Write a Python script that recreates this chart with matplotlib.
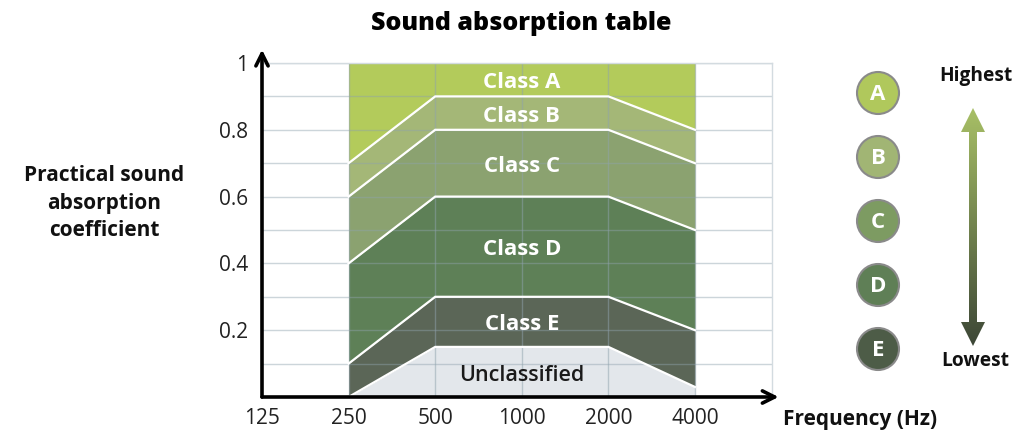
import numpy as np
import matplotlib
matplotlib.use("Agg")
import matplotlib.pyplot as plt
from matplotlib.patches import Circle, Polygon

plt.rcParams['font.family'] = ['Open Sans', 'DejaVu Sans']

# data ----------------------------------------------------------------------
freqs = [250, 500, 1000, 2000, 4000]
tick_freqs = [125, 250, 500, 1000, 2000, 4000]
y_ticks = [0.2, 0.4, 0.6, 0.8, 1.0]
y_tick_labels = ['0.2', '0.4', '0.6', '0.8', '1']

# upper boundary of each band, bottom to top
unclassified_top = [0.0, 0.15, 0.15, 0.15, 0.03]
class_e_top = [0.1, 0.3, 0.3, 0.3, 0.2]
class_d_top = [0.4, 0.6, 0.6, 0.6, 0.5]
class_c_top = [0.6, 0.8, 0.8, 0.8, 0.7]
class_b_top = [0.7, 0.9, 0.9, 0.9, 0.8]
class_a_top = [1.0, 1.0, 1.0, 1.0, 1.0]

band_names = ['Unclassified', 'Class E', 'Class D', 'Class C', 'Class B', 'Class A']
band_colors = ['#e3e7eb', '#5b6657', '#5e8057', '#8ba270', '#a4b777', '#b3cb5b']
legend_letters = ['A', 'B', 'C', 'D', 'E']
legend_colors = ['#b0c85c', '#a1b574', '#7d9b62', '#5f7f56', '#4d5c47']

tops = [unclassified_top, class_e_top, class_d_top, class_c_top, class_b_top, class_a_top]

# figure ----------------------------------------------------------------------
W, H = 1015, 432
fig = plt.figure(figsize=(W / 100, H / 100), dpi=100)

x0, x1, y0, y1 = 262, 772, 397, 63
ax = fig.add_axes([x0 / W, 1 - y0 / H, (x1 - x0) / W, (y0 - y1) / H])
ax.set_xscale('log', base=2)
ax.set_xlim(125, 4000 * 2 ** ((x1 - 695) / 86.6))
ax.set_ylim(0, 1)

lower = [0.0] * len(freqs)
for top, col, name in zip(tops, band_colors, band_names):
    ax.fill_between(freqs, lower, top, color=col, lw=0, zorder=1)
    mid = (lower[2] + top[2]) / 2
    if name == 'Unclassified':
        ax.text(1000, mid - 0.011, name, ha='center', va='center', color='#1a1a1a',
                fontsize=15.5, fontweight='semibold', zorder=4)
    else:
        ax.text(1000, mid - 0.009, name, ha='center', va='center', color='white',
                fontsize=16, fontweight='bold', zorder=4)
    lower = top

for top in tops[:-1]:
    ax.plot(freqs, top, color='white', lw=1.6, zorder=3,
            solid_joinstyle='miter')

# grid over the fills, faint
for f in freqs:
    ax.axvline(f, color='#8fa2ad', alpha=0.5, lw=1, zorder=2)
for yv in np.arange(0.1, 1.01, 0.1):
    ax.axhline(yv, color='#8fa2ad', alpha=0.45, lw=1, zorder=2)

for s in ['left', 'bottom']:
    ax.spines[s].set_visible(False)
for s in ['top', 'right']:
    ax.spines[s].set_color('#d3dbe0')
    ax.spines[s].set_linewidth(1)

ax.set_xticks(tick_freqs)
ax.set_xticklabels([str(f) for f in tick_freqs])
ax.xaxis.set_minor_locator(matplotlib.ticker.NullLocator())
ax.set_yticks(y_ticks)
ax.set_yticklabels(y_tick_labels)
ax.tick_params(length=0, labelsize=15, colors='#222222')
ax.tick_params(axis='x', pad=8)
ax.tick_params(axis='y', pad=10)

# axis arrows
ax.annotate('', xy=(1.013, 0), xytext=(0, 0), xycoords='axes fraction',
            arrowprops=dict(arrowstyle='->', lw=2.6, color='black',
                            mutation_scale=22, shrinkA=0, shrinkB=0),
            annotation_clip=False, zorder=5)
ax.annotate('', xy=(0, 1.04), xytext=(0, 0), xycoords='axes fraction',
            arrowprops=dict(arrowstyle='->', lw=2.6, color='black',
                            mutation_scale=22, shrinkA=0, shrinkB=0),
            annotation_clip=False, zorder=5)

# overlay for titles and the class legend (pixel coordinates)
ov = fig.add_axes([0, 0, 1, 1], zorder=-1)
ov.set_xlim(0, W)
ov.set_ylim(H, 0)
ov.axis('off')

ov.text(521, 23, 'Sound absorption table', ha='center', va='center',
        fontsize=18, fontweight='heavy', color='black')
ov.text(104, 203, 'Practical sound\nabsorption\ncoefficient', ha='center',
        va='center', fontsize=15, fontweight='bold', color='#111111',
        linespacing=1.38)
ov.text(783, 419, 'Frequency (Hz)', ha='left', va='center', fontsize=15,
        fontweight='bold', color='#111111')

for i, (letter, col) in enumerate(zip(legend_letters, legend_colors)):
    cy = 93 + i * 64
    ov.add_patch(Circle((878, cy), 21, facecolor=col, edgecolor='#8a8a8a', lw=1.5))
    ov.text(878, cy + 1, letter, ha='center', va='center', color='white',
            fontsize=16, fontweight='bold')

ov.text(976, 76, 'Highest', ha='center', va='center', fontsize=13.8,
        fontweight='bold', color='#111111')
ov.text(975, 361, 'Lowest', ha='center', va='center', fontsize=13.8,
        fontweight='bold', color='#111111')

# gradient double arrow
ax_x = 973
pts = [(ax_x, 108), (ax_x + 12, 132), (ax_x + 4, 132), (ax_x + 4, 322),
       (ax_x + 12, 322), (ax_x, 346), (ax_x - 12, 322), (ax_x - 4, 322),
       (ax_x - 4, 132), (ax_x - 12, 132)]
arrow = Polygon(pts, closed=True, facecolor='none', edgecolor='none')
ov.add_patch(arrow)
c_top = np.array([168, 192, 102]) / 255
c_bot = np.array([60, 70, 54]) / 255
t = np.linspace(0, 1, 256)[:, None]
grad = (c_top[None, :] * (1 - t) + c_bot[None, :] * t)[:, None, :]
im = ov.imshow(grad, extent=[ax_x - 13, ax_x + 13, 347, 107], aspect='auto',
               interpolation='bilinear')
im.set_clip_path(arrow)
ov.set_xlim(0, W)
ov.set_ylim(H, 0)

fig.savefig('out.png', dpi=100)
